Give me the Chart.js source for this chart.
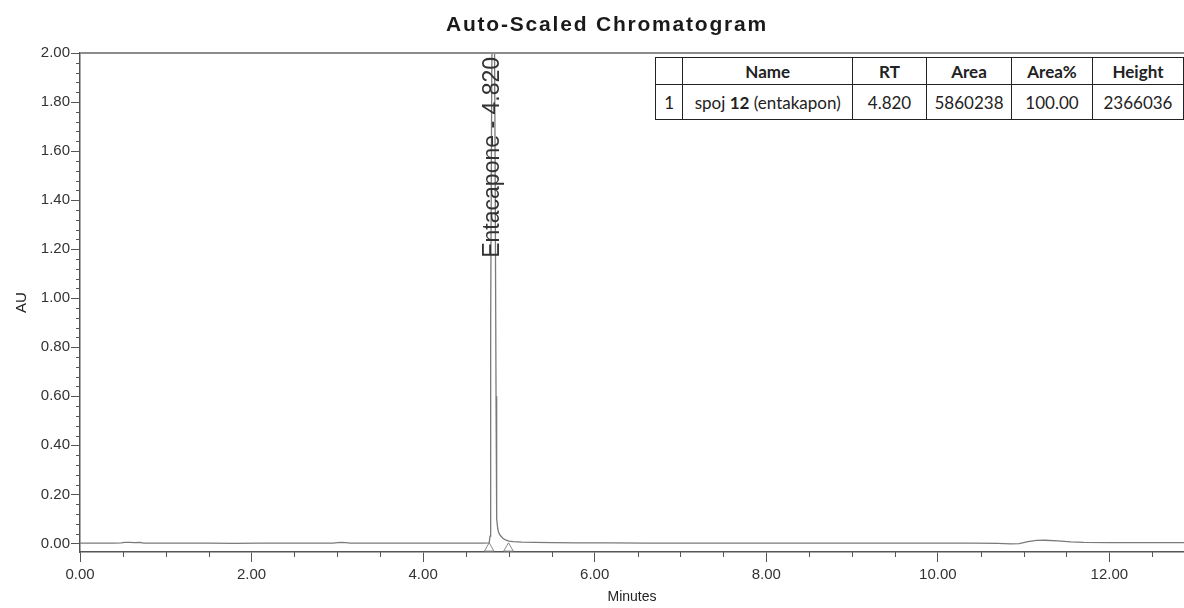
<!DOCTYPE html>
<html>
<head>
<meta charset="utf-8">
<title>Auto-Scaled Chromatogram</title>
<script src="https://cdn.jsdelivr.net/npm/chart.js@4.4.0/dist/chart.umd.min.js"></script>
<style>
  html, body { margin: 0; padding: 0; background: #fff; overflow: hidden; }
  .wrap { position: relative; width: 1184px; height: 608px; }
  #peakTable {
    position: absolute; left: 655px; top: 57px;
    border-collapse: collapse; table-layout: fixed;
    font-family: Lato, 'Open Sans', sans-serif; font-size: 17px; color: #222;
    background: #fff;
  }
  #peakTable th, #peakTable td {
    border: 1.5px solid #222; padding: 0; text-align: center; white-space: nowrap; overflow: hidden;
  }
  #peakTable th { height: 26px; font-weight: bold; }
  #peakTable td { height: 34px; }
</style>
</head>
<body>
<div class="wrap">
  <canvas id="chromChart" width="1184" height="608"></canvas>
  <table id="peakTable"></table>
</div>
<script>
// Chromatogram trace (minutes / AU)
const chromTime = [0.00, 0.20, 0.40, 0.48, 0.52, 0.58, 0.64, 0.70, 0.74, 0.90, 1.20, 1.50, 1.80, 2.10, 2.40, 2.70, 2.95, 3.00, 3.05, 3.10, 3.15, 3.40, 3.80, 4.20, 4.50, 4.70,
    4.77, 4.78, 4.785, 4.79, 4.80, 4.81, 4.82, 4.83, 4.84, 4.85, 4.855, 4.86, 4.87, 4.88, 4.90, 4.93, 4.96, 5.00, 5.05, 5.15, 5.30, 5.50,
    5.80, 6.20, 6.60, 7.00, 7.50, 8.00, 8.50, 9.00, 9.50, 10.00, 10.40, 10.70, 10.85, 10.95, 11.05, 11.15, 11.25, 11.40, 11.55, 11.70, 12.00, 12.40, 12.87];
const chromAU = [0.001, 0.001, 0.001, 0.002, 0.004, 0.004, 0.003, 0.004, 0.001, 0.001, 0.001, 0.001, 0.000, 0.001, 0.001, 0.001, 0.001, 0.003, 0.004, 0.003, 0.001, 0.001, 0.001, 0.001, 0.001, 0.001,
    0.002, 0.030, 0.300, 0.900, 1.900, 2.300, 2.366, 2.200, 1.500, 0.600, 0.250, 0.100, 0.060, 0.045, 0.032, 0.021, 0.014, 0.009, 0.007, 0.005, 0.004, 0.003,
    0.002, 0.002, 0.001, 0.001, 0.001, 0.001, 0.001, 0.001, 0.001, 0.001, 0.001, 0.000, -0.002, -0.001, 0.007, 0.012, 0.013, 0.010, 0.006, 0.004, 0.003, 0.003, 0.003];

// integration start / end markers
const markerTime = [4.77, 4.995];
const markerLevel = -0.02;

const peakRT = 4.820;
const peakLabel = 'Entacapone - 4.820';

const xTicks = [0, 2, 4, 6, 8, 10, 12];
const yTicks = [0, 0.2, 0.4, 0.6, 0.8, 1.0, 1.2, 1.4, 1.6, 1.8, 2.0];

// Peak table
const tableHeader = ['', 'Name', 'RT', 'Area', 'Area%', 'Height'];
const peakNo = [1];
const peakName = ['spoj 12 (entakapon)'];
const peakRTs = ['4.820'];
const peakArea = ['5860238'];
const peakAreaPct = ['100.00'];
const peakHeight = ['2366036'];
const colWidths = [28, 171, 75, 86, 82, 92];

function buildTable() {
    const table = document.getElementById('peakTable');
    let html = '<colgroup>' + colWidths.map(w => '<col style="width:' + w + 'px">').join('') + '</colgroup>';
    html += '<tr>' + tableHeader.map(h => '<th>' + h + '</th>').join('') + '</tr>';
    peakNo.forEach((n, i) => {
        const name = peakName[i].replace(/(\d+)/, '<b>$1</b>');
        html += '<tr><td>' + n + '</td><td>' + name + '</td><td>' + peakRTs[i] + '</td><td>' +
            peakArea[i] + '</td><td>' + peakAreaPct[i] + '</td><td>' + peakHeight[i] + '</td></tr>';
    });
    table.innerHTML = html;
}
buildTable();

const axisFont = "'Liberation Sans', Arial, sans-serif";

// frame line, minor ticks, title and peak label
const chromDecor = {
    id: 'chromDecor',
    afterDraw(chart) {
        const { ctx, chartArea, scales: { x, y } } = chart;
        ctx.save();

        ctx.strokeStyle = '#8c8c8c';
        ctx.lineWidth = 2;
        ctx.beginPath();
        ctx.moveTo(chartArea.left, chartArea.top);
        ctx.lineTo(chartArea.right, chartArea.top);
        ctx.stroke();

        ctx.strokeStyle = '#555';
        ctx.lineWidth = 1;
        ctx.beginPath();
        for (let i = 1; i * 0.5 <= x.max; i++) {
            if (i % 4 === 0) continue;
            const px = Math.round(x.getPixelForValue(i * 0.5)) + 0.5;
            ctx.moveTo(px, chartArea.bottom);
            ctx.lineTo(px, chartArea.bottom + 5);
        }
        for (let i = 1; i < 50; i++) {
            if (i % 5 === 0) continue;
            const py = Math.round(y.getPixelForValue(i * 0.04)) + 0.5;
            ctx.moveTo(chartArea.left, py);
            ctx.lineTo(chartArea.left - 4, py);
        }
        ctx.stroke();

        // title
        ctx.fillStyle = '#1a1a1a';
        ctx.font = 'bold 21px ' + axisFont;
        ctx.letterSpacing = '1.8px';
        ctx.textAlign = 'center';
        ctx.textBaseline = 'middle';
        ctx.fillText('Auto-Scaled Chromatogram', 607, 25);
        ctx.letterSpacing = '0px';

        // peak label, rotated
        const lx = x.getPixelForValue(peakRT) + 6;
        ctx.translate(lx, chartArea.top + 4);
        ctx.rotate(-Math.PI / 2);
        ctx.font = '23px ' + axisFont;
        ctx.fillStyle = '#333';
        ctx.textAlign = 'right';
        ctx.textBaseline = 'alphabetic';
        ctx.fillText(peakLabel, 0, 0);

        ctx.restore();
    }
};

new Chart(document.getElementById('chromChart'), {
    type: 'line',
    data: {
        datasets: [{
            data: chromTime.map((t, i) => ({ x: t, y: chromAU[i] })),
            borderColor: '#7a7a7a',
            borderWidth: 1.3,
            pointRadius: 0,
            tension: 0
        }, {
            type: 'scatter',
            data: markerTime.map(t => ({ x: t, y: markerLevel })),
            pointStyle: 'triangle',
            pointRadius: 5.5,
            pointBorderColor: '#888',
            pointBackgroundColor: '#fff',
            pointBorderWidth: 1
        }]
    },
    options: {
        responsive: false,
        animation: false,
        layout: { autoPadding: false, padding: { top: 53, right: 0, left: 0, bottom: 0 } },
        plugins: {
            legend: { display: false },
            tooltip: { enabled: false }
        },
        scales: {
            x: {
                type: 'linear',
                min: 0,
                max: 12.87,
                afterBuildTicks: scale => { scale.ticks = xTicks.map(v => ({ value: v })); },
                afterFit: scale => {
                    scale.height = 56;
                    scale.paddingLeft = 0;
                    scale.paddingRight = 0;
                },
                ticks: {
                    callback: v => v.toFixed(2),
                    font: { family: axisFont, size: 15 },
                    color: '#333',
                    padding: 4,
                    maxRotation: 0,
                    autoSkip: false
                },
                grid: { drawOnChartArea: false, tickLength: 10, tickColor: '#555' },
                border: { display: true, color: '#555', width: 1.5 },
                title: {
                    display: true,
                    text: 'Minutes',
                    font: { family: axisFont, size: 14 },
                    color: '#222',
                    padding: { top: 0, bottom: 2 }
                }
            },
            y: {
                min: -0.035,
                max: 2.0,
                afterBuildTicks: scale => { scale.ticks = yTicks.map(v => ({ value: v })); },
                afterFit: scale => { scale.width = 80; },
                ticks: {
                    callback: v => v.toFixed(2),
                    font: { family: axisFont, size: 15 },
                    color: '#333',
                    padding: 1
                },
                grid: { drawOnChartArea: false, tickLength: 9, tickColor: '#555' },
                border: { display: true, color: '#555', width: 1.5 },
                title: {
                    display: true,
                    text: 'AU',
                    font: { family: axisFont, size: 15 },
                    color: '#222',
                    padding: { top: 13, bottom: 0 }
                }
            }
        }
    },
    plugins: [chromDecor]
});
</script>
</body>
</html>
